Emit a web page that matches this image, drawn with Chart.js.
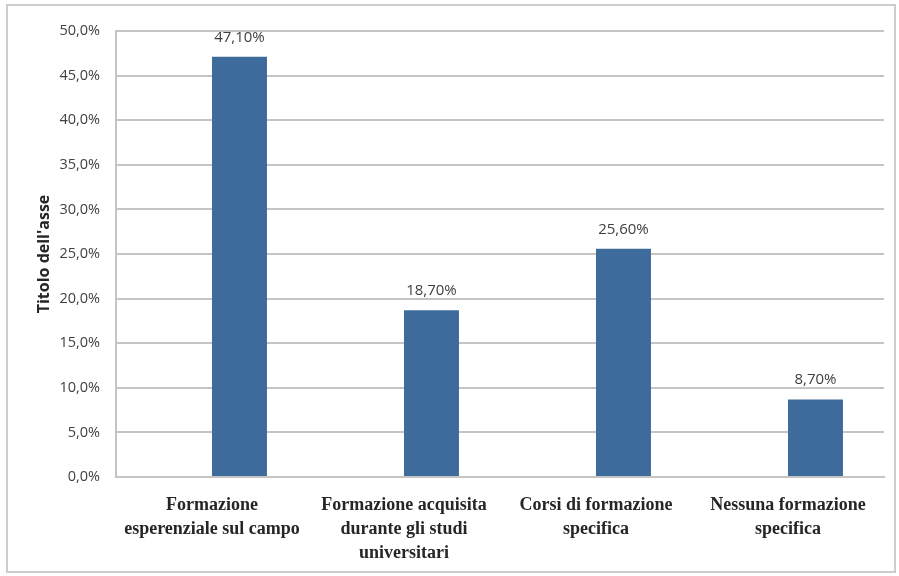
<!DOCTYPE html>
<html>
<head>
<meta charset="utf-8">
<script src="https://cdn.jsdelivr.net/npm/chart.js@4/dist/chart.umd.min.js"></script>
<style>
  html, body { margin: 0; padding: 0; background: #ffffff; }
  #wrap { width: 899px; height: 576px; position: relative; }
</style>
</head>
<body>
<div id="wrap"><canvas id="c" width="899" height="576"></canvas></div>
<script>
// Categories (multi-line labels) and percentage values
const categories = [
  ['Formazione', 'esperenziale sul campo'],
  ['Formazione acquisita', 'durante gli studi', 'universitari'],
  ['Corsi di formazione', 'specifica'],
  ['Nessuna formazione', 'specifica']
];
const emptySeries = [null, null, null, null];
const values = [47.1, 18.7, 25.6, 8.7];
const yMin = 0;
const yMax = 50;
const yStep = 5;
const axisTitle = "Titolo dell'asse";

const fmtTick = v => v.toFixed(1).replace('.', ',') + '%';
const fmtValue = v => v.toFixed(2).replace('.', ',') + '%';

// Outer frame around the whole chart
const framePlugin = {
  id: 'frame',
  beforeDraw(chart) {
    const ctx = chart.ctx;
    ctx.save();
    ctx.fillStyle = '#ffffff';
    ctx.fillRect(0, 0, chart.width, chart.height);
    ctx.strokeStyle = '#cccccc';
    ctx.lineWidth = 2;
    ctx.strokeRect(7, 5, 888, 567);
    ctx.restore();
  }
};

// Value labels above each bar
const valueLabels = {
  id: 'valueLabels',
  afterDatasetsDraw(chart) {
    const ctx = chart.ctx;
    const meta = chart.getDatasetMeta(1);
    ctx.save();
    ctx.font = '15px "Open Sans", "Liberation Sans", sans-serif';
    ctx.fillStyle = '#404040';
    ctx.textAlign = 'center';
    ctx.textBaseline = 'alphabetic';
    meta.data.forEach((bar, i) => {
      ctx.fillText(fmtValue(values[i]), bar.x, bar.y - 15);
    });
    ctx.restore();
  }
};

new Chart(document.getElementById('c'), {
  type: 'bar',
  data: {
    labels: categories,
    datasets: [
      { data: emptySeries, backgroundColor: '#3d6b9b' },
      { data: values, backgroundColor: '#3d6b9b' }
    ]
  },
  options: {
    responsive: false,
    animation: false,
    devicePixelRatio: 1,
    layout: { padding: { left: 0, right: 15, top: 31, bottom: 0 } },
    datasets: {
      bar: { categoryPercentage: 0.5725, barPercentage: 1.0 }
    },
    plugins: {
      legend: { display: false },
      tooltip: { enabled: false }
    },
    scales: {
      x: {
        grid: { display: false, drawTicks: false },
        border: { display: true, color: '#c4c4c4', width: 2 },
        ticks: {
          padding: 16,
          color: '#262626',
          maxRotation: 0,
          autoSkip: false,
          font: { family: '"Liberation Serif", "DejaVu Serif", serif', size: 18, weight: 'bold', lineHeight: 1.33 }
        },
        afterFit(scale) { scale.height = 99; }
      },
      y: {
        min: yMin,
        max: yMax,
        ticks: {
          stepSize: yStep,
          padding: 16,
          color: '#404040',
          font: { family: '"Open Sans", "Liberation Sans", sans-serif', size: 14.5 },
          callback: v => fmtTick(v)
        },
        grid: { color: '#c4c4c4', lineWidth: 2, drawTicks: false },
        border: { display: true, color: '#c4c4c4', width: 2 },
        title: {
          display: true,
          text: axisTitle,
          color: '#262626',
          font: { family: '"Open Sans", "Liberation Sans", sans-serif', size: 16, weight: 'bold' },
          padding: { top: 35, bottom: 0 }
        },
        afterFit(scale) { scale.width = 116; }
      }
    }
  },
  plugins: [framePlugin, valueLabels]
});
</script>
</body>
</html>
